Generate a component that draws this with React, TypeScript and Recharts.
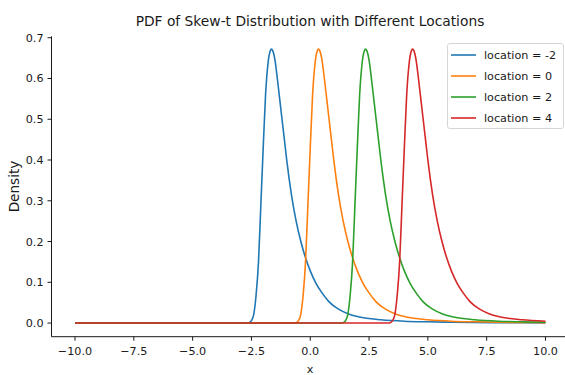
import { LineChart, Line, XAxis, YAxis, Legend, Label } from 'recharts'

// skew-t curve shape: offset from location -> density
const PROFILE_OFFSET = [
  -14, -12, -10, -8, -6, -4, -2, -1, -0.7, -0.6, -0.5, -0.4, -0.3, -0.2, -0.1,
  0, 0.1, 0.2, 0.3, 0.35, 0.4, 0.5, 0.6, 0.7, 0.8, 0.9, 1.0, 1.1,
  1.2, 1.4, 1.6, 1.8, 2.0, 2.25, 2.5, 2.8, 3.2, 3.6, 4.0, 4.5, 5,
  6, 7, 8, 10, 12,
]
const PROFILE_DENSITY = [
  0, 0, 0, 0, 0, 0, 0, 0, 0, 0.001, 0.006, 0.022, 0.07, 0.15, 0.29,
  0.43, 0.56, 0.635, 0.668, 0.672, 0.669, 0.645, 0.6, 0.55, 0.5, 0.45, 0.4, 0.355,
  0.315, 0.25, 0.2, 0.16, 0.128, 0.097, 0.074, 0.052, 0.034, 0.023, 0.016, 0.011, 0.008,
  0.0045, 0.003, 0.002, 0.001, 0.0005,
]

const LOCATIONS = [-2, 0, 2, 4]
const COLORS = ['#1f77b4', '#ff7f0e', '#2ca02c', '#d62728']
const X_TICKS = [-10, -7.5, -5, -2.5, 0, 2.5, 5, 7.5, 10]
const Y_TICKS = [0, 0.1, 0.2, 0.3, 0.4, 0.5, 0.6, 0.7]

const FONT = '"DejaVu Sans", sans-serif'
const INK = '#1a1a1a'
const TICK_FS = 11.2

const series = LOCATIONS.map((loc) =>
  PROFILE_OFFSET.map((o, i) => ({ x: loc + o, y: PROFILE_DENSITY[i] })).filter(
    (p) => p.x >= -10 && p.x <= 10
  )
)

function LegendBox() {
  return (
    <div
      style={{
        width: 117,
        height: 86,
        border: '1px solid #d6d6d6',
        borderRadius: 3,
        background: 'rgba(255,255,255,0.8)',
        boxSizing: 'border-box',
        paddingTop: 1,
        fontFamily: FONT,
        fontSize: TICK_FS,
        color: INK,
      }}
    >
      {LOCATIONS.map((loc, i) => (
        <div key={loc} style={{ height: 20.9, display: 'flex', alignItems: 'center', whiteSpace: 'nowrap' }}>
          <svg width={36} height={4} style={{ flex: 'none' }}>
            <line x1={3} x2={28} y1={2} y2={2} stroke={COLORS[i]} strokeWidth={1.6} />
          </svg>
          <span>location = {loc}</span>
        </div>
      ))}
    </div>
  )
}

export default function App() {
  return (
    <div style={{ position: 'absolute', left: 0, top: 0, width: 565, height: 375, overflow: 'hidden', background: '#fff' }}>
      <div
        style={{
          position: 'absolute',
          left: 0,
          width: 620,
          top: 14.5,
          textAlign: 'center',
          fontFamily: FONT,
          fontSize: 13.8,
          lineHeight: 1,
          color: INK,
        }}
      >
        PDF of Skew-t Distribution with Different Locations
      </div>
      <LineChart width={575} height={375} margin={{ top: 36.3, right: 6, bottom: 0, left: 0 }}>
        <XAxis
          dataKey="x"
          type="number"
          domain={[-11, 11]}
          ticks={X_TICKS}
          tickFormatter={(v: number) => (v < 0 ? '\u2212' : '') + Math.abs(v).toFixed(1)}
          allowDataOverflow
          height={38.3}
          tickSize={4}
          tickMargin={6.5}
          stroke={INK}
          tick={{ fill: INK, fontSize: TICK_FS, fontFamily: FONT }}
        >
          <Label
            content={() => (
              <text x={310} y={373} textAnchor="middle" fill={INK} fontSize={TICK_FS} fontFamily={FONT}>
                x
              </text>
            )}
          />
        </XAxis>
        <XAxis xAxisId="top" orientation="top" type="number" domain={[-11, 11]} tick={false} tickLine={false} height={0} stroke={INK} />
        <YAxis
          type="number"
          domain={[-0.0335, 0.7035]}
          ticks={Y_TICKS}
          tickFormatter={(v: number) => v.toFixed(1)}
          allowDataOverflow
          width={51.5}
          tickSize={4}
          tickMargin={4}
          stroke={INK}
          tick={{ fill: INK, fontSize: TICK_FS, fontFamily: FONT }}
        >
          <Label
            content={() => (
              <text
                x={18.5}
                y={186.5}
                transform="rotate(-90 18.5 186.5)"
                textAnchor="middle"
                fill={INK}
                fontSize={13.6}
                fontFamily={FONT}
              >
                Density
              </text>
            )}
          />
        </YAxis>
        <YAxis yAxisId="right" orientation="right" width={0} tick={false} tickLine={false} stroke={INK} />
        {series.map((pts, i) => (
          <Line
            key={LOCATIONS[i]}
            data={pts}
            dataKey="y"
            type="monotone"
            stroke={COLORS[i]}
            strokeWidth={1.6}
            dot={false}
            isAnimationActive={false}
          />
        ))}
        <Legend
          layout="horizontal"
          verticalAlign="middle"
          align="center"
          content={() => <LegendBox />}
          wrapperStyle={{ position: 'absolute', left: 447, top: 43, width: 117, height: 86 }}
        />
      </LineChart>
    </div>
  )
}
